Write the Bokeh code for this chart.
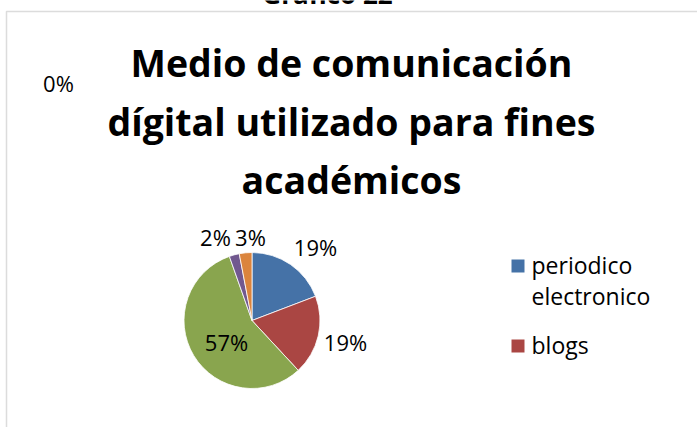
import numpy as np
from bokeh.plotting import figure
from bokeh.models import Range1d, BoxAnnotation, ColumnDataSource, Label
from bokeh.embed import file_html
from bokeh.resources import INLINE

# ---- data ----
categories = ["periodico electronico", "blogs", "otros", "otro 2", "otro 3", "otro 4"]
values = [19.2, 18.9, 56.5, 2.4, 3.0, 0.0]
labels = ["19%", "19%", "57%", "2%", "3%", "0%"]
colors = ["#4572A7", "#AA4643", "#89A54E", "#71588F", "#DB843D", "#3D96AE"]
legend_items = ["periodico electronico", "blogs"]

W, H = 697, 427
def Y(py):
    return H - py

p = figure(width=W, height=H, output_backend="svg", toolbar_location=None,
           x_range=Range1d(0, W), y_range=Range1d(0, H),
           x_axis_location=None, y_axis_location=None, min_border=0)
p.grid.visible = False
p.outline_line_color = None
p.background_fill_color = "white"
p.border_fill_color = "white"

# chart border
p.add_layout(BoxAnnotation(left=6, right=W + 20, top=Y(11), bottom=-20,
                           fill_alpha=0, line_color="#8c8c8c", line_width=1.5))

# header (cut off at top, as in the original)
p.add_layout(Label(x=327, y=Y(-7), text="Gráfico 22", text_font="Open Sans",
                   text_font_style="bold", text_font_size="26px",
                   text_align="center", text_baseline="middle", text_color="black"))

# title
title_lines = ["Medio de comunicación", "dígital utilizado para fines", "académicos"]
title_mid = [62, 120.5, 179]
for t, b in zip(title_lines, title_mid):
    p.add_layout(Label(x=351, y=Y(b), text=t, text_font="Open Sans",
                       text_font_style="bold", text_font_size="37.5px",
                       text_align="center", text_baseline="middle", text_color="black"))

# pie
vals = np.array(values, dtype=float)
frac = vals / vals.sum()
cum = np.concatenate([[0], np.cumsum(frac)])
start = np.pi / 2 - cum[:-1] * 2 * np.pi
end = np.pi / 2 - cum[1:] * 2 * np.pi
keep = vals > 0
cx, cy, r = 251.5, Y(320), 68
src = ColumnDataSource(dict(start=list(start[keep]), end=list(end[keep]),
                            color=[c for c, k in zip(colors, keep) if k],
                            cat=[c for c, k in zip(categories, keep) if k]))
p.wedge(x=cx, y=cy, radius=r, start_angle="end", end_angle="start",
        fill_color="color", line_color="white", line_width=0.8, source=src)

# data labels
label_pos = [(315, 246), (345, 341), (226, 341), (215, 236), (250, 236), (58, 82)]
for (lx, ly), t in zip(label_pos, labels):
    p.add_layout(Label(x=lx, y=Y(ly), text=t, text_font="Open Sans",
                       text_font_size="22px", text_align="center",
                       text_baseline="middle", text_color="black"))

# legend (truncated, as in original)
leg_y = [265.5, 345.5]
leg_text = [["periodico", "electronico"], ["blogs"]]
for i, name in enumerate(legend_items):
    p.rect(x=517.5, y=Y(leg_y[i]), width=13, height=13, fill_color=colors[i], line_color=None)
    for j, line in enumerate(leg_text[i]):
        p.add_layout(Label(x=531, y=Y(leg_y[i] - 1 + j * 31), text=line,
                           text_font="Open Sans", text_font_size="23px",
                           text_align="left", text_baseline="middle", text_color="black"))

html = file_html(p, INLINE)
html = html.replace("<head>", "<head><style>html,body{margin:0;padding:0;overflow:hidden;}</style>", 1)
open("out.html", "w").write(html)
